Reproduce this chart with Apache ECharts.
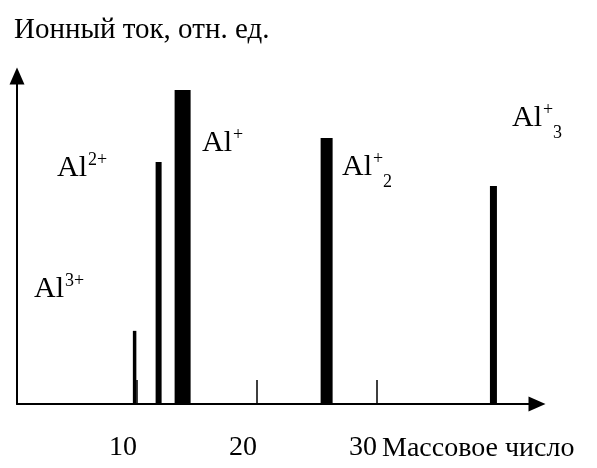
<!DOCTYPE html>
<html>
<head>
<meta charset="utf-8">
<script src="https://cdn.jsdelivr.net/npm/echarts@6/dist/echarts.min.js"></script>
<style>
  html, body { margin: 0; padding: 0; background: #fff; }
  #chart { width: 597px; height: 468px; }
</style>
</head>
<body>
<div id="chart"></div>
<script>
// Ion peaks: mass number position and relative ion current
const ions = ['Al3+', 'Al2+', 'Al+', 'Al2+ (dimer)', 'Al3+ (trimer)'];
const massNumbers = [9.8, 11.8, 13.8, 25.8, 39.7];
const ionCurrent = [22.3, 73.8, 95.7, 81.1, 66.5];
const tickValues = [10, 20, 30];

// bar thickness in px for each peak
const barWidths = [3.5, 6, 16, 12, 7];

const FONT = '"Liberation Serif", "Times New Roman", serif';

const chart = echarts.init(document.getElementById('chart'), null, { renderer: 'canvas' });

// ion label: main symbol plus superscript / subscript parts
function ionLabel(x, y, sup, sub) {
  const children = [
    { type: 'text', x: x, y: y, style: { text: 'Al', font: '30px ' + FONT, fill: '#000', verticalAlign: 'bottom' } }
  ];
  children.push({ type: 'text', x: x + 31, y: y - 14, style: { text: sup, font: '18px ' + FONT, fill: '#000', verticalAlign: 'bottom' } });
  if (sub) {
    children.push({ type: 'text', x: x + 31 + (sup === '+' ? 10 : 18), y: y + 9, style: { text: sub, font: '18px ' + FONT, fill: '#000', verticalAlign: 'bottom' } });
  }
  return { type: 'group', children: children };
}

const option = {
  backgroundColor: '#fff',
  animation: false,
  title: {
    text: 'Ионный ток, отн. ед.',
    left: 9,
    top: 11,
    textStyle: { fontFamily: FONT, fontSize: 29, fontWeight: 'normal', color: '#000' }
  },
  grid: { left: 17, right: 60, top: 76, bottom: 64 },
  xAxis: {
    type: 'value',
    min: 0,
    max: 43.33,
    interval: 10,
    splitLine: { show: false },
    axisLine: {
      show: true,
      lineStyle: { color: '#000', width: 2 },
      symbol: ['none', 'triangle'],
      symbolSize: [15, 17]
    },
    axisTick: {
      show: true,
      inside: true,
      length: 24,
      customValues: tickValues,
      lineStyle: { color: '#000', width: 1.5 }
    },
    axisLabel: {
      show: true,
      customValues: tickValues,
      margin: 30,
      align: 'right',
      fontFamily: FONT,
      fontSize: 28,
      color: '#000'
    }
  },
  yAxis: {
    type: 'value',
    min: 0,
    max: 100,
    splitLine: { show: false },
    axisLine: {
      show: true,
      lineStyle: { color: '#000', width: 2 },
      symbol: ['none', 'triangle'],
      symbolSize: [15, 17]
    },
    axisTick: { show: false },
    axisLabel: { show: false }
  },
  series: [{
    type: 'custom',
    name: 'Ионный ток',
    data: massNumbers.map((m, i) => [m, ionCurrent[i]]),
    renderItem: function (params, api) {
      const top = api.coord([api.value(0), api.value(1)]);
      const base = api.coord([api.value(0), 0]);
      const w = barWidths[params.dataIndex];
      return {
        type: 'rect',
        shape: { x: top[0] - w / 2, y: top[1], width: w, height: base[1] - top[1] },
        style: { fill: '#000' }
      };
    }
  }],
  graphic: [
    ionLabel(34, 304, '3+'),
    ionLabel(57, 183, '2+'),
    ionLabel(202, 158, '+'),
    ionLabel(342, 182, '+', '2'),
    ionLabel(512, 133, '+', '3'),
    {
      type: 'text', x: 382, y: 463,
      style: { text: 'Массовое число', font: '28px ' + FONT, fill: '#000', verticalAlign: 'bottom' }
    }
  ]
};

chart.setOption(option);
</script>
</body>
</html>
